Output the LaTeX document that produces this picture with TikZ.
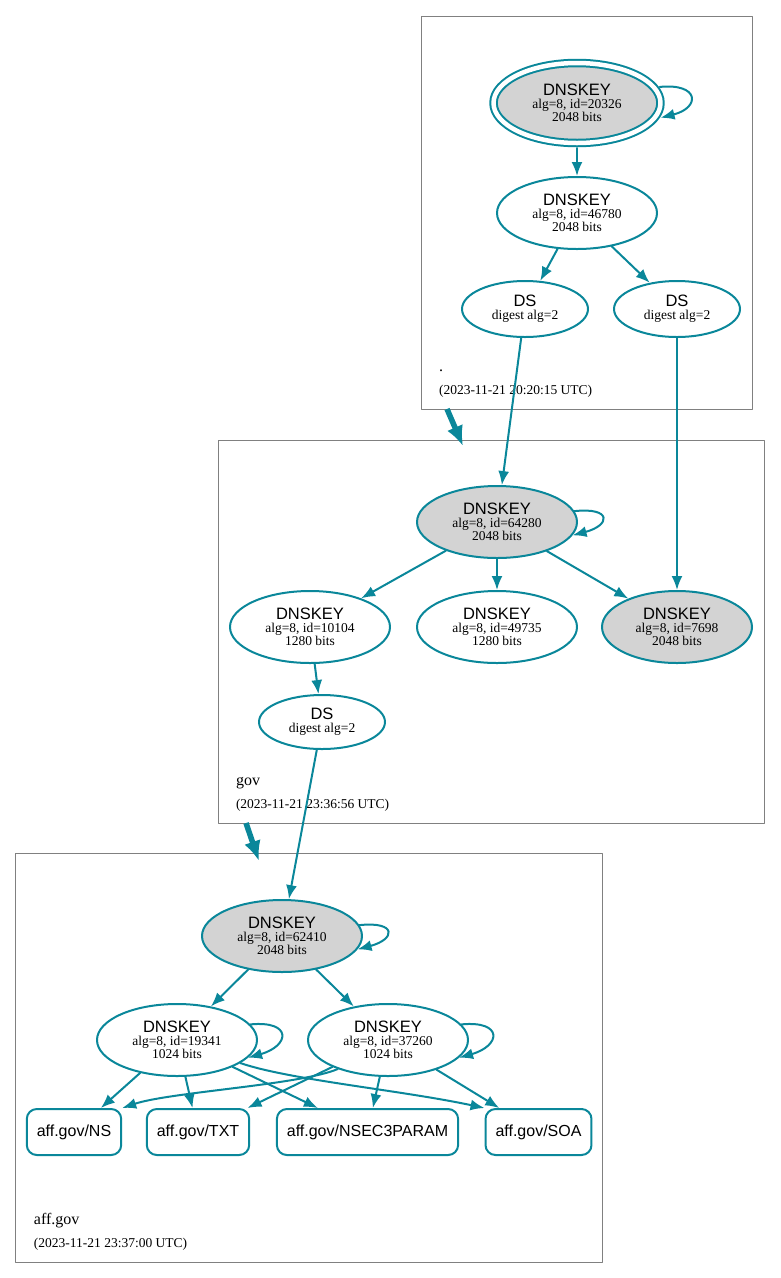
\documentclass[tikz,border=0pt]{standalone}
\usepackage{fontspec}
\setmainfont{Liberation Serif}
\setsansfont{Liberation Sans}
\usetikzlibrary{shapes,arrows.meta,positioning}
\definecolor{secure}{HTML}{0A879A}
\definecolor{keygray}{HTML}{D3D3D3}
\tikzstyle{every node}=[font=\fontsize{13.5}{13}\selectfont]
\tikzstyle{every path}=[line width=2pt,line cap=round,line join=round]
\tikzstyle{key}=[ellipse,draw=secure,minimum width=160pt,minimum height=72pt,inner sep=0pt,align=center]
\tikzstyle{ksk}=[key,fill=keygray]
\tikzstyle{ds}=[key,minimum width=126pt,minimum height=56pt]
\tikzstyle{rrset}=[draw=secure,rounded corners=10pt,minimum height=46pt,inner xsep=10pt,font=\fontsize{16}{16}\selectfont\sffamily]
\tikzstyle{zone}=[draw=black!50,line width=1pt,inner sep=0pt]
\tikzstyle{zonename}=[inner sep=0pt,anchor=base west,font=\fontsize{16}{16}\selectfont]
\tikzstyle{zonedate}=[inner sep=0pt,anchor=base west]
\tikzstyle{sig}=[draw=secure,-{Latex[length=14pt,width=11pt]}]
\tikzstyle{deleg}=[draw=secure,line width=5.5pt,line cap=butt,-{Latex[length=20pt,width=17pt]}]
\newcommand{\keylabel}[2]{{\fontsize{16.5}{16}\selectfont\sffamily DNSKEY}\\alg=8, id=#1\\#2 bits}
\newcommand{\dslabel}{{\fontsize{16.5}{16}\selectfont\sffamily DS}\\digest alg=2}

\begin{document}
\begin{tikzpicture}[x=1pt,y=-1pt]
\useasboundingbox (0,0) rectangle (780,1278);

% zones
\node[zone,minimum width=331pt,minimum height=393pt] (rootzone) at (586.5,212.5) {};
\node[zone,minimum width=546pt,minimum height=383pt] (govzone) at (491,631.5) {};
\node[zone,minimum width=587pt,minimum height=409pt] (affzone) at (308.5,1057.5) {};

\node[zonename] (rootname) at (438,371) {.};
\node[zonedate] (rootdate) at (438,394) {(2023-11-21 20:20:15 UTC)};
\node[zonename] (govname) at (235,785) {gov};
\node[zonedate] (govdate) at (235,808) {(2023-11-21 23:36:56 UTC)};
\node[zonename] (affname) at (33,1224) {aff.gov};
\node[zonedate] (affdate) at (33,1247) {(2023-11-21 23:37:00 UTC)};

% root
\node[ksk,double=white,double distance=4.5pt,outer sep=5pt,minimum width=167pt,minimum height=80pt] (rootksk) at (577,103) {\keylabel{20326}{2048}};
\node[key] (rootzsk) at (577,213) {\keylabel{46780}{2048}};
\node[ds] (rootdsa) at (525,309) {\dslabel};
\node[ds] (rootdsb) at (677,309) {\dslabel};

% gov
\node[ksk] (govksk) at (497,522) {\keylabel{64280}{2048}};
\node[key] (govzska) at (310,627) {\keylabel{10104}{1280}};
\node[key] (govzskb) at (497,627) {\keylabel{49735}{1280}};
\node[ksk,minimum width=150pt] (govkskb) at (677,627) {\keylabel{7698}{2048}};
\node[ds,minimum height=54pt] (govds) at (322,722) {\dslabel};

% aff.gov
\node[ksk] (affksk) at (282,936) {\keylabel{62410}{2048}};
\node[key] (affzska) at (177,1040) {\keylabel{19341}{1024}};
\node[key] (affzskb) at (388,1040) {\keylabel{37260}{1024}};
\node[rrset] (affns) at (74,1132) {aff.gov/NS};
\node[rrset] (afftxt) at (198,1132) {aff.gov/TXT};
\node[rrset] (affnsec) at (367.5,1132) {aff.gov/NSEC3PARAM};
\node[rrset] (affsoa) at (538.5,1132) {aff.gov/SOA};

% delegations
\coordinate (rootcut) at (447,409);
\coordinate (govtip) at (463,446);
\coordinate (govcut) at (246,823);
\coordinate (afftip) at (259,861);
\draw[deleg] (rootcut) -- (govtip);
\draw[deleg] (govcut) -- (afftip);

% signatures
\draw[sig] (rootksk) -- (rootzsk);
\draw[sig] (rootzsk) -- (rootdsa);
\draw[sig] (rootzsk) -- (rootdsb);
\draw[sig] (rootdsa) -- (govksk);
\draw[sig] (rootdsb) -- (govkskb);
\draw[sig] (govksk) -- (govzska);
\draw[sig] (govksk) -- (govzskb);
\draw[sig] (govksk) -- (govkskb);
\draw[sig] (govzska) -- (govds);
\draw[sig] (govds) -- (affksk);
\draw[sig] (affksk) -- (affzska);
\draw[sig] (affksk) -- (affzskb);
\draw[sig] (affzska) -- (affns);
\draw[sig] (affzska) -- (afftxt);
\draw[sig] (affzska) -- (affnsec);
\draw[sig] (affzska.-20) .. controls (290,1080) and (400,1090) .. (affsoa.north west);
\draw[sig] (affzskb.-150) .. controls (300,1085) and (170,1092) .. (affns.north east);
\draw[sig] (affzskb) -- (afftxt);
\draw[sig] (affzskb) -- (affnsec);
\draw[sig] (affzskb) -- (affsoa);

% self loops
\draw[sig] (rootksk.11) .. controls +(40,-4) and +(40,-10) .. (rootksk.-10);
\draw[sig] (govksk.8) .. controls +(38,-4) and +(38,-10) .. (govksk.-10);
\draw[sig] (affksk.8) .. controls +(38,-4) and +(38,-10) .. (affksk.-10);
\draw[sig] (affzska.12) .. controls +(42,-4) and +(42,-12) .. (affzska.-14);
\draw[sig] (affzskb.12) .. controls +(42,-4) and +(42,-12) .. (affzskb.-14);

\end{tikzpicture}
\end{document}
